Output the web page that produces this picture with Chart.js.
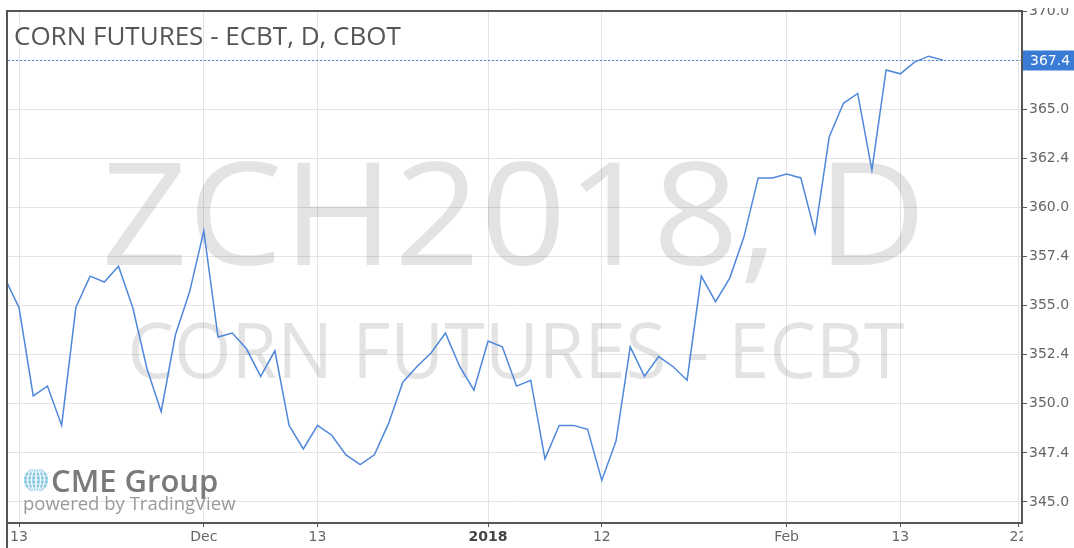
<!DOCTYPE html>
<html lang="en">
<head>
    <meta charset="UTF-8">
    <title>Corn Futures - ECBT</title>
    <script src="https://cdn.jsdelivr.net/npm/chart.js"></script>
    <style>
        body { margin: 0; background: #fff; }
        #wrap { width: 1074px; height: 548px; }
    </style>
</head>
<body>
    <div id="wrap"><canvas id="chart" width="1074" height="548"></canvas></div>

    <script>
        // daily closes, first one sits just left of the visible window (bar index -1)
        const firstBar = -1;
        const closes = [
            356.4, 354.9, 350.4, 350.9, 348.9, 354.9, 356.5, 356.2, 357.0, 354.9,
            351.8, 349.6, 353.5, 355.7, 358.8, 353.4, 353.6, 352.8, 351.4, 352.7,
            348.9, 347.7, 348.9, 348.4, 347.4, 346.9, 347.4, 349.0, 351.1, 351.9,
            352.6, 353.6, 351.9, 350.7, 353.2, 352.9, 350.9, 351.2, 347.2, 348.9,
            348.9, 348.7, 346.1, 348.1, 352.9, 351.4, 352.4, 351.9, 351.2, 356.5,
            355.2, 356.4, 358.5, 361.5, 361.5, 361.7, 361.5, 358.7, 363.6, 365.3,
            365.8, 361.9, 367.0, 366.8, 367.4, 367.7, 367.5
        ];

        // time axis: bar index of each label
        const xTickBars = [0, 13, 21, 33, 41, 54, 62, 70.3];
        const xTickLabels = ['13', 'Dec', '13', '2018', '12', 'Feb', '13', '22'];

        // price axis (corn is quoted in eighths: 347.4 = 347 4/8)
        const yTickValues = [345, 347.5, 350, 352.5, 355, 357.5, 360, 362.5, 365, 367.5, 370];
        const yTickLabels = ['345.0', '347.4', '350.0', '352.4', '355.0', '357.4', '360.0', '362.4', '365.0', '367.4', '370.0'];
        const lastPriceLabel = '367.4';

        const lineColor = '#4f88da';
        const tickFont = { family: 'DejaVu Sans', size: 14 };

        const points = closes.map((v, k) => ({ x: firstBar + k, y: v }));

        const tvDecor = {
            id: 'tvDecor',
            beforeDatasetsDraw(chart) {
                const ctx = chart.ctx;
                const a = chart.chartArea;
                ctx.save();
                ctx.beginPath();
                ctx.rect(a.left, a.top, a.right - a.left, a.bottom - a.top);
                ctx.clip();

                // big watermarks
                ctx.fillStyle = 'rgba(0,0,0,0.11)';
                ctx.textBaseline = 'alphabetic';
                drawFitted(ctx, 'ZCH2018, D', 'Open Sans', 142, 514, 265, 825);
                drawFitted(ctx, 'CORN FUTURES - ECBT', 'Open Sans', 76, 516, 378, 777);

                // title
                ctx.fillStyle = '#555';
                ctx.font = '26px "Open Sans"';
                ctx.textAlign = 'left';
                ctx.fillText('CORN FUTURES - ECBT, D, CBOT', 14, 45);

                // CME logo
                const gx = 36, gy = 480, gr = 12;
                ctx.fillStyle = '#86c6e2';
                ctx.beginPath();
                ctx.arc(gx, gy, gr, 0, Math.PI * 2);
                ctx.fill();
                ctx.strokeStyle = 'rgba(255,255,255,0.8)';
                ctx.lineWidth = 1;
                for (let d = -8; d <= 8; d += 4) {
                    const w = Math.sqrt(gr * gr - d * d);
                    ctx.beginPath();
                    ctx.moveTo(gx - w, gy + d);
                    ctx.lineTo(gx + w, gy + d);
                    ctx.stroke();
                    ctx.beginPath();
                    ctx.ellipse(gx, gy, Math.abs(d) + 0.5, gr, 0, 0, Math.PI * 2);
                    ctx.stroke();
                }
                ctx.fillStyle = '#7a7a7a';
                ctx.font = '600 31px "Open Sans"';
                ctx.fillText('CME Group', 51, 492);
                ctx.fillStyle = '#9a9a9a';
                ctx.font = '18.5px "Open Sans"';
                ctx.fillText('powered by TradingView', 23, 510);
                ctx.restore();
            },
            afterDraw(chart) {
                const ctx = chart.ctx;
                const a = chart.chartArea;
                const y = Math.round(chart.scales.y.getPixelForValue(closes[closes.length - 1])) + 0.5;
                ctx.save();

                // last price line + label
                ctx.strokeStyle = lineColor;
                ctx.lineWidth = 1;
                ctx.setLineDash([2, 2]);
                ctx.beginPath();
                ctx.moveTo(a.left, y);
                ctx.lineTo(a.right, y);
                ctx.stroke();
                ctx.setLineDash([]);
                ctx.fillStyle = '#3a7bd5';
                ctx.fillRect(a.right + 1, y - 10, 60, 20);
                ctx.fillStyle = '#fff';
                ctx.font = '14px "DejaVu Sans"';
                ctx.textBaseline = 'middle';
                ctx.textAlign = 'left';
                ctx.fillText(lastPriceLabel, a.right + 8, y + 1);

                // clip bits that spill past the frame
                ctx.fillStyle = '#fff';
                ctx.fillRect(a.right + 1, a.bottom + 1, 60, 40);
                ctx.fillRect(a.right + 1, 0, 60, 8);

                // frame
                ctx.strokeStyle = '#555';
                ctx.lineWidth = 2;
                ctx.beginPath();
                ctx.moveTo(7, 548);
                ctx.lineTo(7, a.top);
                ctx.lineTo(a.right, a.top);
                ctx.stroke();
                ctx.restore();
            }
        };

        function drawFitted(ctx, text, family, size, cx, baseline, width) {
            ctx.font = size + 'px "' + family + '"';
            const w = ctx.measureText(text).width;
            ctx.save();
            ctx.translate(cx, baseline);
            ctx.scale(width / w, 1);
            ctx.textAlign = 'center';
            ctx.fillText(text, 0, 0);
            ctx.restore();
        }

        const isYear = c => c.tick && xTickLabels[xTickBars.indexOf(c.tick.value)] === '2018';

        new Chart(document.getElementById('chart'), {
            type: 'line',
            data: {
                datasets: [{
                    data: points,
                    borderColor: lineColor,
                    borderWidth: 1.5,
                    pointRadius: 0,
                    tension: 0,
                    fill: false
                }]
            },
            options: {
                responsive: false,
                animation: false,
                events: [],
                layout: { padding: { top: 11, left: 8, right: 0, bottom: 0 } },
                plugins: { legend: { display: false }, tooltip: { enabled: false } },
                scales: {
                    x: {
                        type: 'linear',
                        min: -0.775,
                        max: 70.56,
                        afterBuildTicks: s => { s.ticks = xTickBars.map(v => ({ value: v })); },
                        afterFit: s => { s.height = 25; },
                        grid: { color: '#e4e4e4', tickLength: 4, tickColor: '#555' },
                        border: { color: '#555', width: 2 },
                        ticks: {
                            autoSkip: false,
                            maxRotation: 0,
                            padding: 2,
                            font: c => isYear(c) ? { family: 'DejaVu Sans', size: 14, weight: 'bold' } : tickFont,
                            color: c => isYear(c) ? '#444' : '#666',
                            callback: v => xTickLabels[xTickBars.indexOf(v)]
                        }
                    },
                    y: {
                        position: 'right',
                        min: 343.93,
                        max: 370,
                        afterBuildTicks: s => { s.ticks = yTickValues.map(v => ({ value: v })); },
                        afterFit: s => { s.width = 52; },
                        grid: { color: '#e4e4e4', tickLength: 5, tickColor: '#555' },
                        border: { color: '#555', width: 2 },
                        ticks: {
                            padding: 2,
                            font: tickFont,
                            color: '#666',
                            callback: v => yTickLabels[yTickValues.indexOf(v)]
                        }
                    }
                }
            },
            plugins: [tvDecor]
        });
    </script>
</body>
</html>
